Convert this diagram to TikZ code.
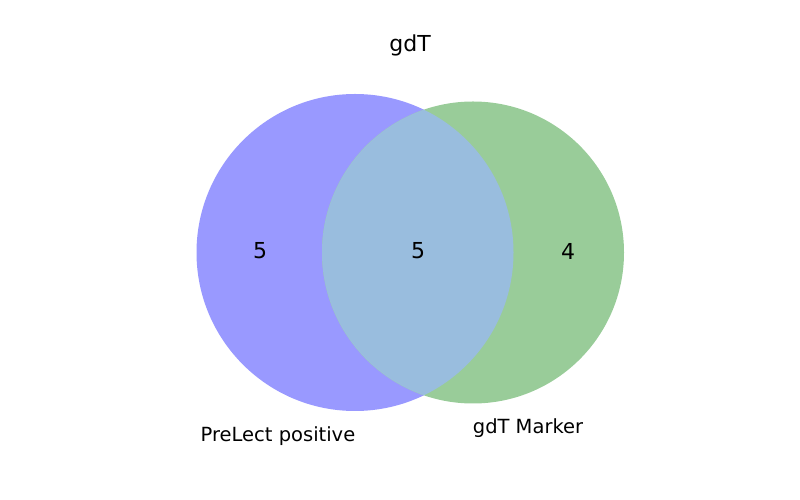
\documentclass[tikz,border=0pt]{standalone}
\usepackage{fontspec}
\setmainfont{DejaVu Sans}
\usetikzlibrary{positioning}
\definecolor{setblue}{RGB}{153,153,255}
\definecolor{setgreen}{RGB}{153,204,153}
\definecolor{setmix}{RGB}{153,189,222}

\begin{document}
\begin{tikzpicture}[
  x=1pt, y=1pt,
  title/.style ={font=\fontsize{22}{26}\selectfont, text=black},
  count/.style ={font=\fontsize{22}{26}\selectfont, text=black},
  setlab/.style={font=\fontsize{19.5}{23}\selectfont, text=black},
]
\useasboundingbox (0,0) rectangle (800,500);

% ==================================================== the two sets
\coordinate (cA) at (355,247.5);
\coordinate (cB) at (473,247.5);
\fill[setblue]  (cA) circle[radius=158.5];
\fill[setgreen] (cB) circle[radius=151];
% overlap gets its own mixed colour
\begin{scope}
  \clip (cA) circle[radius=158.5];
  \fill[setmix] (cB) circle[radius=151];
\end{scope}

% ==================================================== counts and labels
\node[title] (ttl) at (410,455) {gdT};
\node[count] (onlyA) at (260,249) {5};
\node[count] (both)  at (418,249) {5};
\node[count] (onlyB) at (568,249) {4};
\node[setlab] (labA) at (278,64) {PreLect positive};
\node[setlab] (labB) at (528,72) {gdT Marker};

\end{tikzpicture}
\end{document}
